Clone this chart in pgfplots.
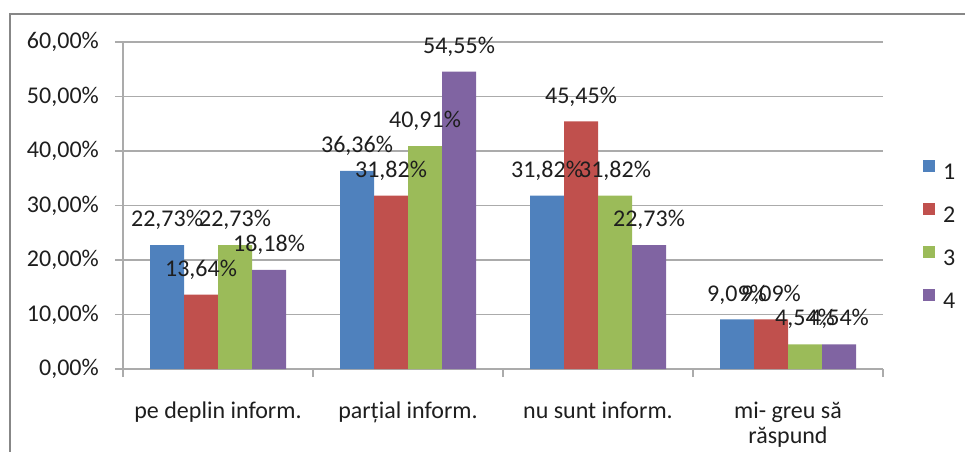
\documentclass[border=0pt]{standalone}
\usepackage{fontspec}
\setmainfont{Carlito}
\usepackage{pgfplots}
\pgfplotsset{compat=1.18}
\definecolor{s1}{HTML}{4F81BD}
\definecolor{s2}{HTML}{C0504D}
\definecolor{s3}{HTML}{9BBB59}
\definecolor{s4}{HTML}{8064A2}
\definecolor{gridgray}{HTML}{ABABAB}
\definecolor{framegray}{HTML}{878787}
\definecolor{txt}{HTML}{1E1E1E}
\pgfplotsset{ybar legend/.style={legend image code/.code={\fill[#1] (0bp,1.6bp) rectangle (12bp,13.6bp);}}}
\begin{document}
\fontsize{24bp}{29bp}\selectfont
\begin{tikzpicture}
\useasboundingbox (0,0) rectangle (965bp,-452bp);
\draw[line width=2.5bp, color=framegray] (10bp,-470bp) -- (10bp,-14bp) -- (985bp,-14bp);
\begin{axis}[
  at={(123bp,-369bp)}, anchor=south west,
  scale only axis, width=760bp, height=327bp,
  xmin=-0.5, xmax=3.5, ymin=0, ymax=60,
  ybar=0pt, bar width=34bp,
  legend image code/.code={\fill[#1] (0bp,1.6bp) rectangle (12bp,13.6bp);},
  axis x line*=bottom, axis y line*=left,
  axis line style={draw=gridgray, line width=1.2bp},
  ymajorgrids, grid style={gridgray, line width=1.2bp},
  tick align=outside, major tick length=8bp,
  tick style={gridgray, line width=1.2bp},
  ytick={0,10,...,60},
  yticklabels={{0,00\%},{10,00\%},{20,00\%},{30,00\%},{40,00\%},{50,00\%},{60,00\%}},
  xtick={-0.5,0.5,1.5,2.5,3.5},
  x tick label as interval,
  xticklabels={pe deplin inform., parțial inform., nu sunt inform., {\begin{tabular}[t]{@{}c@{}}mi- greu să\\[-4bp]răspund\end{tabular}}},
  xticklabel style={inner sep=0pt, anchor=base, yshift=-41bp, text=txt, font=\fontsize{24bp}{29bp}\selectfont},
  yticklabel style={inner sep=0pt, anchor=east, xshift=-16bp, text=txt, font=\fontsize{24bp}{29bp}\selectfont},
  /pgf/number format/assume math mode=true,
  nodes near coords={\pgfmathprintnumber[fixed,fixed zerofill,precision=2,use comma]{\pgfplotspointmeta}\%},
  every node near coord/.append style={font=\fontsize{24bp}{29bp}\selectfont, inner sep=0pt, yshift=15bp, text=txt},
  legend style={draw=none, fill=none, at={(1.0526,0.4067)}, anchor=west, inner sep=0pt,
    row sep=20bp, column sep=8bp, nodes={inner sep=0pt, text=txt}, font=\fontsize{24bp}{29bp}\selectfont},
  legend cell align=left,
]
\addplot[fill=s1, draw=none] coordinates {(0,22.73) (1,36.36) (2,31.82) (3,9.09)};
\addplot[fill=s2, draw=none] coordinates {(0,13.64) (1,31.82) (2,45.45) (3,9.09)};
\addplot[fill=s3, draw=none] coordinates {(0,22.73) (1,40.91) (2,31.82) (3,4.54)};
\addplot[fill=s4, draw=none] coordinates {(0,18.18) (1,54.55) (2,22.73) (3,4.54)};
\legend{1,2,3,4}
\end{axis}
\end{tikzpicture}
\end{document}
